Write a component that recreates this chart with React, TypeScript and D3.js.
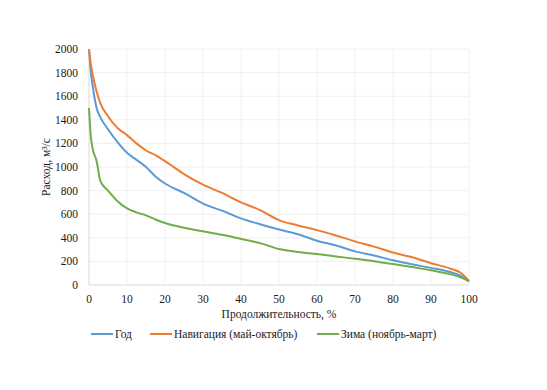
import React from "react";
import * as d3 from "d3";

// продолжительность, %
const xs = [0, 0.5, 1, 2, 3, 5, 7.5, 10, 12.5, 15, 17.5, 20, 25, 30, 35, 40, 45, 50, 55, 60, 65, 70, 75, 80, 85, 90, 95, 98, 100];
// год
const yearVals = [2000, 1800, 1680, 1500, 1420, 1320, 1210, 1120, 1060, 1000, 920, 860, 780, 690, 630, 565, 515, 470, 430, 375, 335, 285, 250, 210, 175, 145, 110, 75, 30];
// навигация (май-октябрь)
const navVals = [2000, 1870, 1780, 1640, 1540, 1430, 1330, 1270, 1200, 1140, 1100, 1050, 940, 850, 780, 700, 635, 550, 505, 465, 420, 370, 325, 275, 235, 185, 140, 100, 35];
// зима (ноябрь-март)
const winterVals = [1500, 1250, 1150, 1050, 880, 800, 710, 650, 615, 590, 555, 525, 485, 455, 425, 390, 355, 305, 280, 262, 242, 222, 202, 178, 152, 125, 92, 62, 30];

const xTicks = [0, 10, 20, 30, 40, 50, 60, 70, 80, 90, 100];
const yTicks = [0, 200, 400, 600, 800, 1000, 1200, 1400, 1600, 1800, 2000];

const series = [
  { name: "Год", color: "#5b9bd5", vals: yearVals, lx: 91 },
  { name: "Навигация (май-октябрь)", color: "#ed7d31", vals: navVals, lx: 150 },
  { name: "Зима (ноябрь-март)", color: "#70ad47", vals: winterVals, lx: 317 },
];

export default function App() {
  const W = 547, H = 390;
  const x = d3.scaleLinear().domain([0, 100]).range([89, 469]);
  const y = d3.scaleLinear().domain([0, 2000]).range([285, 49]);
  const txt = { fontFamily: "Liberation Serif", fontSize: 11.5, fill: "#1a1a1a" };

  const line = (vals: number[]) =>
    d3.line<number>()
      .x((_, i) => x(xs[i]))
      .y((d) => y(d))
      .curve(d3.curveMonotoneX)(vals) || "";

  return (
    <svg width={W} height={H} style={{ position: "absolute", left: 0, top: 0, background: "#fff" }}>
      {/* сетка */}
      {yTicks.map((t) => (
        <line key={"gy" + t} x1={x(0)} x2={x(100)} y1={y(t)} y2={y(t)} stroke={t === 0 ? "#d9d9d9" : "#f0f0f0"} strokeWidth={1} />
      ))}
      {xTicks.map((t) => (
        <line key={"gx" + t} x1={x(t)} x2={x(t)} y1={y(0)} y2={y(2000)} stroke={t === 0 ? "#d9d9d9" : "#f0f0f0"} strokeWidth={1} />
      ))}

      {series.map((s) => (
        <path key={s.name} d={line(s.vals)} fill="none" stroke={s.color} strokeWidth={2} strokeLinejoin="round" />
      ))}

      {yTicks.map((t) => (
        <text key={"ty" + t} x={78} y={y(t)} dy="0.35em" textAnchor="end" style={txt}>
          {t}
        </text>
      ))}
      {xTicks.map((t) => (
        <text key={"tx" + t} x={x(t)} y={303} textAnchor="middle" style={txt}>
          {t}
        </text>
      ))}

      <text x={279} y={318} textAnchor="middle" style={txt}>
        Продолжительность, %
      </text>
      <text transform={`translate(50,${y(1000)}) rotate(-90)`} textAnchor="middle" style={txt}>
        Расход, м³/с
      </text>

      {series.map((s) => (
        <g key={"lg" + s.name}>
          <line x1={s.lx} x2={s.lx + 22} y1={334} y2={334} stroke={s.color} strokeWidth={2} />
          <text x={s.lx + 24} y={334} dy="0.35em" style={txt}>
            {s.name}
          </text>
        </g>
      ))}
    </svg>
  );
}
